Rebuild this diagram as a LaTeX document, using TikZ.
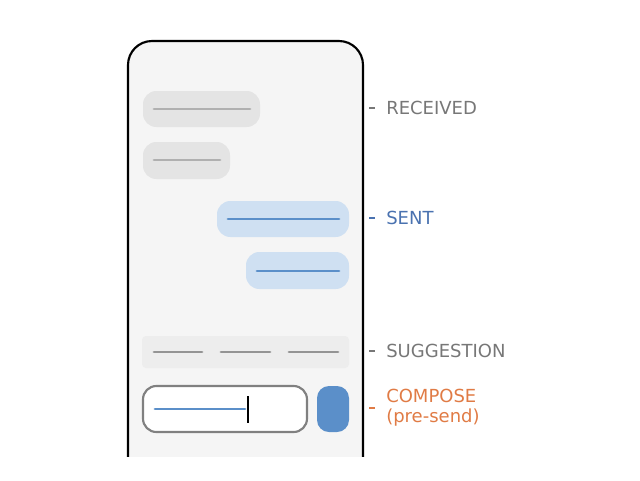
\documentclass[tikz,border=0pt]{standalone}
\usepackage{fontspec}
\setmainfont{DejaVu Sans}
\definecolor{bubblegray}{HTML}{E4E4E4}
\definecolor{linegray}{HTML}{B0B0B0}
\definecolor{bubbleblue}{HTML}{CFE0F2}
\definecolor{lineblue}{HTML}{5B8FC9}
\definecolor{labelgray}{HTML}{777777}
\definecolor{labelblue}{HTML}{4A72B0}
\definecolor{labelorange}{HTML}{E07B45}
\tikzset{
  recv/.style={fill=bubblegray, rounded corners=10},
  sent/.style={fill=bubbleblue, rounded corners=10},
  stroke/.style={line width=2.2pt, line cap=round},
  tag/.style={anchor=west, inner sep=0pt, font=\fontsize{13.5}{15}\selectfont},
  tick/.style={line width=0.9pt}
}
\begin{document}
\begin{tikzpicture}[x=0.75pt,y=-0.75pt]
\useasboundingbox (0,0) rectangle (640,480);

%phone
\begin{scope}
\clip (0,0) rectangle (640,456);
\draw[line width=1.6pt, fill=black!4, rounded corners=18] (128,41) rectangle (363,490);
\end{scope}

%received
\fill[recv] (143,91) rectangle (260,127);
\draw[stroke, linegray] (154,109) -- (250,109);
\fill[recv] (143,142) rectangle (230,179);
\draw[stroke, linegray] (154,160) -- (220,160);

%sent
\fill[sent] (217,201) rectangle (349,237);
\draw[stroke, lineblue] (228,219) -- (339,219);
\fill[sent] (246,252) rectangle (349,289);
\draw[stroke, lineblue] (257,271) -- (339,271);

%suggestion
\fill[black!7, rounded corners=3] (142,336) rectangle (349,368);
\foreach \a/\b in {154/202, 221/270, 289/338}
  \draw[stroke, black!42] (\a,352) -- (\b,352);

%compose
\draw[line width=1.6pt, draw=black!50, fill=white, rounded corners=10] (143,386) rectangle (307,432);
\draw[stroke, lineblue] (155,409) -- (245,409);
\draw[line width=1.6pt] (248,396) -- (248,423);
\fill[lineblue, rounded corners=9] (317,386) rectangle (349,432);

%labels
\node (received) [tag, labelgray] at (386,108) {RECEIVED};
\node (sentlbl) [tag, labelblue] at (386,218) {SENT};
\node (suggest) [tag, labelgray] at (386,351) {SUGGESTION};
\node (compose) [tag, labelorange, align=left] at (386,408) {COMPOSE\\(pre-send)};
\draw[tick, labelgray] (369,108) -- (375,108);
\draw[tick, labelblue] (369,218) -- (375,218);
\draw[tick, labelgray] (369,351) -- (375,351);
\draw[tick, labelorange] (369,408) -- (375,408);
\end{tikzpicture}
\end{document}
